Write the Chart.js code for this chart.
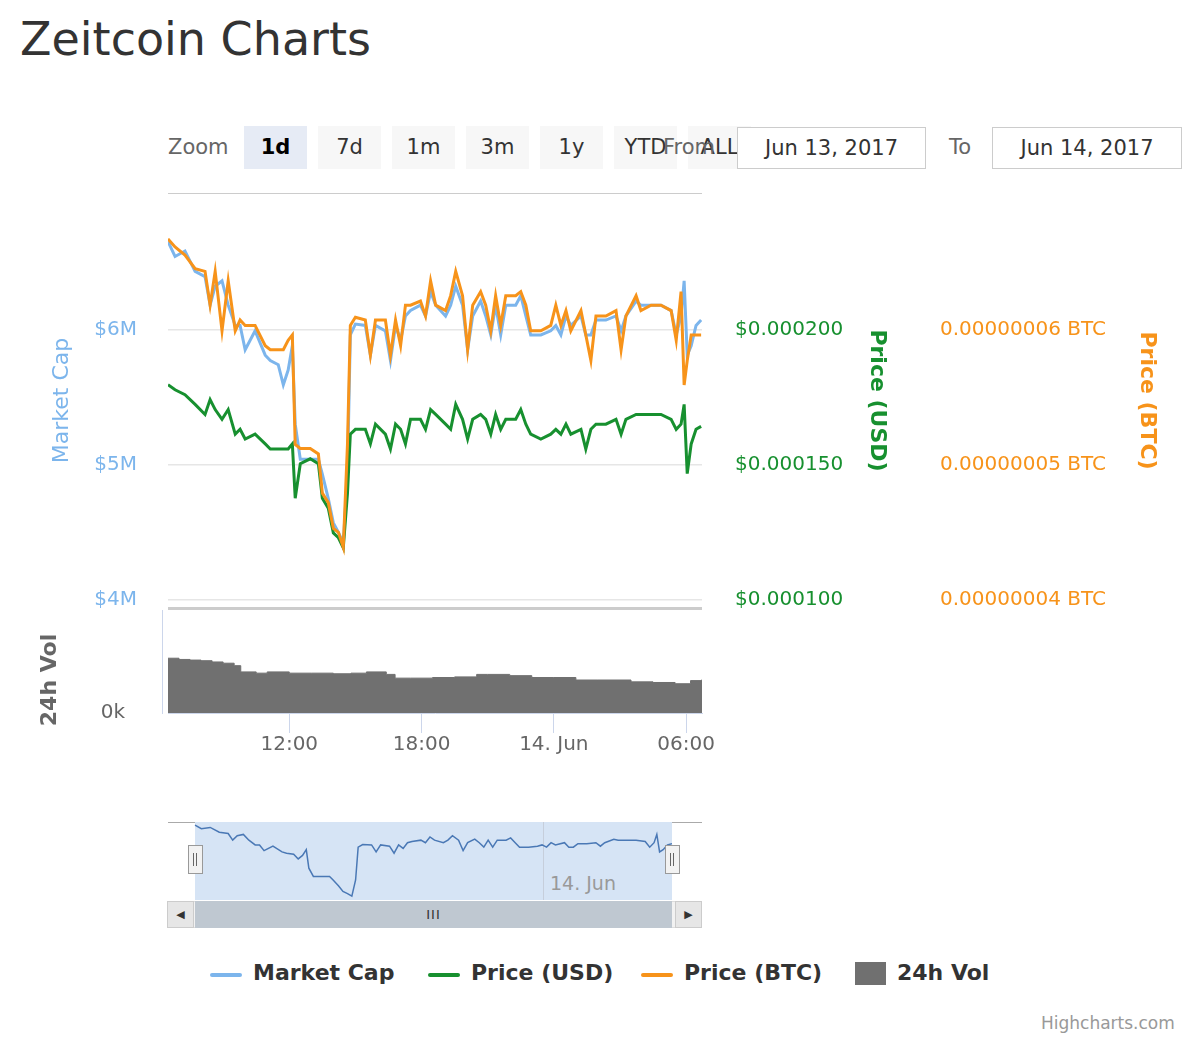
<!DOCTYPE html>
<html>
<head>
<meta charset="utf-8">
<script src="https://cdn.jsdelivr.net/npm/chart.js@4"></script>
<style>
	body { margin: 0; width: 1200px; height: 1040px; background: #fff; font-family: "DejaVu Sans", sans-serif; position: relative; overflow: hidden; }
	.abs { position: absolute; }
	#title { left: 20px; top: 12px; font-size: 46px; color: #333; }
	.btn { top: 126px; height: 43px; width: 63px; background: #f7f7f7; color: #333; font-size: 21px; line-height: 43px; text-align: center; }
	.btn.sel { background: #e6ebf5; font-weight: bold; color: #000; }
	.lbl { font-size: 21px; color: #666; }
	.inp { top: 127px; height: 40px; border: 1px solid #ccc; font-size: 21px; color: #333; line-height: 40px; text-align: center; background: #fff; }
	.leg { top: 960px; font-size: 22px; font-weight: bold; color: #333; }
	.sw { height: 4px; width: 32px; top: 973px; border-radius: 2px; }
	canvas { position: absolute; }
</style>
</head>
<body>
<div id="title" class="abs">Zeitcoin Charts</div>
<div class="abs lbl" style="left:168px;top:135px">Zoom</div>
<div class="abs btn sel" style="left:244px">1d</div>
<div class="abs btn" style="left:318px">7d</div>
<div class="abs btn" style="left:392px">1m</div>
<div class="abs btn" style="left:466px">3m</div>
<div class="abs btn" style="left:540px">1y</div>
<div class="abs btn" style="left:614px">YTD</div>
<div class="abs btn" style="left:688px">ALL</div>
<div class="abs lbl" style="left:663px;top:135px">From</div>
<div class="abs inp" style="left:737px;width:187px">Jun 13, 2017</div>
<div class="abs lbl" style="left:949px;top:135px">To</div>
<div class="abs inp" style="left:992px;width:188px">Jun 14, 2017</div>
<div class="abs" style="left:168px;top:193px;width:534px;height:1px;background:#ccc"></div>
<div class="abs" style="left:168px;top:607px;width:534px;height:3px;background:#ccc"></div>
<div class="abs" style="left:162px;top:610px;width:1px;height:104px;background:#ccd6eb"></div>

<!-- navigator decorations -->
<div class="abs" style="left:195px;top:822px;width:477px;height:78px;background:#d6e4f5"></div>
<div class="abs" style="left:168px;top:822px;width:27px;height:1px;background:#aaa"></div>
<div class="abs" style="left:672px;top:822px;width:30px;height:1px;background:#aaa"></div>
<div class="abs" style="left:543px;top:822px;width:1px;height:78px;background:#c6cedb"></div>
<div class="abs" style="left:550px;top:872px;font-size:19px;color:#999">14. Jun</div>
<div class="abs" style="left:167px;top:901px;width:535px;height:27px;background:#f2f2f2;border:1px solid #ddd;box-sizing:border-box"></div>
<div class="abs" style="left:167px;top:901px;width:27px;height:27px;background:#e6e6e6;border:1px solid #ccc;box-sizing:border-box;font-size:11px;line-height:25px;text-align:center;color:#333">&#9664;</div>
<div class="abs" style="left:675px;top:901px;width:27px;height:27px;background:#e6e6e6;border:1px solid #ccc;box-sizing:border-box;font-size:11px;line-height:25px;text-align:center;color:#333">&#9654;</div>
<div class="abs" style="left:195px;top:901px;width:477px;height:27px;background:#bfc8d1;font-size:13px;line-height:27px;text-align:center;color:#333;letter-spacing:1px">III</div>

<canvas id="mainChart" style="left:0;top:139px" width="1200" height="523"></canvas>
<canvas id="volChart" style="left:0;top:600px" width="1200" height="160"></canvas>
<canvas id="navChart" style="left:0;top:815px" width="1200" height="90"></canvas>

<div class="abs" style="left:188px;top:845px;width:13px;height:27px;background:#f2f2f2;border:1px solid #999"><div style="position:absolute;left:4px;top:7px;width:1px;height:13px;background:#666"></div><div style="position:absolute;left:7px;top:7px;width:1px;height:13px;background:#666"></div></div>
<div class="abs" style="left:665px;top:845px;width:13px;height:27px;background:#f2f2f2;border:1px solid #999"><div style="position:absolute;left:4px;top:7px;width:1px;height:13px;background:#666"></div><div style="position:absolute;left:7px;top:7px;width:1px;height:13px;background:#666"></div></div>

<div class="abs sw" style="left:210px;background:#7cb5ec"></div>
<div class="abs leg" style="left:253px">Market Cap</div>
<div class="abs sw" style="left:428px;background:#17902f"></div>
<div class="abs leg" style="left:471px">Price (USD)</div>
<div class="abs sw" style="left:641px;background:#f7931a"></div>
<div class="abs leg" style="left:684px">Price (BTC)</div>
<div class="abs" style="left:855px;top:962px;width:31px;height:23px;background:#707070"></div>
<div class="abs leg" style="left:897px">24h Vol</div>
<div class="abs" style="left:1041px;top:1013px;font-size:17px;color:#999">Highcharts.com</div>

<script>
// hours since Jun 13 00:00
const times = [6.50,6.82,7.27,7.73,8.18,8.41,8.64,8.95,9.23,9.55,
	9.77,10.00,10.45,10.91,11.14,11.50,11.73,11.95,12.14,12.27,
	12.50,12.95,13.32,13.50,13.77,14.00,14.23,14.45,14.64,14.77,
	15.00,15.45,15.68,15.91,16.36,16.59,16.82,17.05,17.27,17.50,
	17.95,18.18,18.41,18.64,19.09,19.32,19.55,19.86,20.09,20.32,
	20.68,20.91,21.14,21.36,21.59,21.82,22.27,22.50,22.73,22.95,
	23.41,23.86,24.09,24.32,24.55,24.77,25.23,25.45,25.68,25.91,
	26.36,26.82,27.05,27.27,27.73,27.95,28.41,28.86,29.32,29.55,
	29.77,29.91,30.05,30.23,30.45,30.68];
// market cap, millions USD
const marketCap = [6.65,6.54,6.58,6.43,6.39,6.18,6.32,6.36,6.18,6.03,
	6.03,5.85,5.99,5.81,5.77,5.74,5.59,5.70,5.88,5.30,
	5.04,5.04,5.04,4.93,4.75,4.57,4.50,4.42,4.93,5.96,
	6.04,6.03,5.81,6.03,5.99,5.77,6.03,5.92,6.10,6.14,
	6.18,6.10,6.28,6.18,6.10,6.18,6.32,6.18,5.85,6.10,
	6.21,6.10,5.96,6.18,5.96,6.18,6.18,6.25,6.10,5.96,
	5.96,5.99,6.03,5.96,6.10,6.03,6.10,5.96,5.96,6.07,
	6.07,6.10,5.99,6.10,6.21,6.18,6.18,6.18,6.14,5.96,
	6.10,6.36,5.81,5.88,6.03,6.07];
// price in micro USD
const priceUsdMicro = [179.6,177.7,175.9,172.3,168.6,174.1,170.4,166.8,170.4,161.3,
	163.1,159.5,161.3,157.7,155.8,155.8,155.8,155.8,157.7,137.6,
	150.4,152.2,150.4,137.6,133.9,124.8,123.0,119.3,139.4,161.3,
	163.1,163.1,157.7,165.0,161.3,155.8,165.0,163.1,157.7,166.8,
	166.8,163.1,170.4,168.6,165.0,163.1,172.3,166.8,159.5,166.8,
	168.6,166.8,161.3,168.6,163.1,166.8,166.8,170.4,165.0,161.3,
	159.5,161.3,163.1,161.3,165.0,161.3,163.1,155.8,163.1,165.0,
	165.0,166.8,161.3,166.8,168.6,168.6,168.6,168.6,166.8,163.1,
	165.0,172.3,146.7,157.7,163.1,164.2];
// price in satoshi (1e-8 BTC)
const priceBtcSat = [6.67,6.61,6.55,6.45,6.43,6.18,6.43,5.99,6.36,5.99,
	6.07,6.03,6.03,5.88,5.85,5.85,5.85,5.92,5.96,5.15,
	5.12,5.12,5.08,4.79,4.72,4.53,4.50,4.39,5.15,6.03,
	6.09,6.07,5.81,6.07,6.07,5.81,6.07,5.88,6.18,6.18,
	6.21,6.10,6.36,6.18,6.14,6.25,6.43,6.25,5.85,6.18,
	6.28,6.18,5.99,6.25,6.03,6.25,6.25,6.28,6.18,5.99,
	5.99,6.03,6.18,6.03,6.14,5.99,6.14,5.96,5.77,6.10,
	6.10,6.14,5.85,6.10,6.25,6.14,6.18,6.18,6.14,5.92,
	6.28,5.59,5.77,5.96,5.96,5.96];
// 24h volume (thousands)
const volTimes = [6.5,7.0,7.5,8.0,8.5,9.0,9.5,9.8,10.5,11.0,12.0,13.0,14.0,14.8,15.5,16.4,16.8,17.5,18.5,19.5,20.5,21.0,22.0,23.0,24.0,25.0,26.0,27.5,28.5,29.5,30.2,30.72];
const volume = [880,860,850,840,820,800,760,660,640,660,640,640,630,640,660,620,560,560,570,580,620,620,600,570,570,530,530,500,490,470,520,540];
const xTicks = [12, 18, 24, 30];
const xTickLabels = ["12:00", "18:00", "14. Jun", "06:00"];

const FONT = "DejaVu Sans";
const xMin = 6.5, xMax = 30.72;
const pts = arr => times.map((t, i) => ({ x: t, y: arr[i] }));
const fixTicks = vals => scale => { scale.ticks = vals.map(v => ({ value: v })); };

new Chart(document.getElementById("mainChart"), {
	type: "line",
	data: {
		datasets: [
			{ label: "Market Cap", data: pts(marketCap), yAxisID: "yCap", borderColor: "#7cb5ec", borderWidth: 3, pointRadius: 0, order: 2 },
			{ label: "Price (USD)", data: pts(priceUsdMicro), yAxisID: "yUsd", borderColor: "#17902f", borderWidth: 3, pointRadius: 0, order: 1 },
			{ label: "Price (BTC)", data: pts(priceBtcSat), yAxisID: "yBtc", borderColor: "#f7931a", borderWidth: 3, pointRadius: 0, order: 0 }
		]
	},
	options: {
		responsive: false, animation: false,
		layout: { padding: { left: 0, right: 40, top: 10, bottom: 12 } },
		plugins: { legend: { display: false }, tooltip: { enabled: false } },
		scales: {
			x: { type: "linear", min: xMin, max: xMax, display: false },
			yCap: {
				position: "left", min: 4, max: 6.95,
				afterBuildTicks: fixTicks([4, 5, 6]),
				afterFit: s => { s.width = 168; },
				grid: { color: "#e6e6e6", drawTicks: false, lineWidth: 1.5 },
				border: { display: false },
				ticks: { padding: 31, color: "#7cb5ec", font: { family: FONT, size: 20 }, callback: v => "$" + v + "M" },
				title: { display: true, text: "Market Cap", color: "#7cb5ec", font: { family: FONT, size: 22 }, padding: { top: 49, bottom: 0 } }
			},
			yUsd: {
				position: "right", min: 100, max: 247.5,
				afterBuildTicks: fixTicks([100, 150, 200]),
				afterFit: s => { s.width = 188; },
				grid: { drawOnChartArea: false, drawTicks: false },
				border: { display: false },
				ticks: { padding: 33, color: "#17902f", font: { family: FONT, size: 20 }, callback: v => "$" + (v / 1e6).toFixed(6) },
				title: { display: true, text: "Price (USD)", color: "#17902f", font: { family: FONT, size: 22, weight: "bold" }, padding: { top: 0, bottom: 0 } }
			},
			yBtc: {
				position: "right", min: 4, max: 6.95,
				afterBuildTicks: fixTicks([4, 5, 6]),
				afterFit: s => { s.width = 270; },
				grid: { drawOnChartArea: false, drawTicks: false },
				border: { display: false },
				ticks: { padding: 50, color: "#f7931a", font: { family: FONT, size: 20 }, callback: v => (v / 1e8).toFixed(8) + " BTC" },
				title: { display: true, text: "Price (BTC)", color: "#f7931a", font: { family: FONT, size: 22, weight: "bold" }, padding: { top: 0, bottom: 0 } }
			}
		}
	}
});

new Chart(document.getElementById("volChart"), {
	type: "line",
	data: {
		datasets: [{
			label: "24h Vol", data: volTimes.map((t, i) => ({ x: t, y: volume[i] })),
			stepped: "before", fill: "origin", backgroundColor: "#707070", borderColor: "#707070", borderWidth: 1, pointRadius: 0
		}]
	},
	options: {
		responsive: false, animation: false,
		layout: { padding: { left: 0, right: 498, top: 8, bottom: 0 } },
		plugins: { legend: { display: false }, tooltip: { enabled: false } },
		scales: {
			x: {
				type: "linear", min: xMin, max: xMax,
				afterBuildTicks: fixTicks(xTicks),
				afterFit: s => { s.height = 46; },
				grid: { drawOnChartArea: false, tickLength: 20, color: "#ccd6eb" },
				border: { color: "#ccd6eb" },
				ticks: { padding: 0, color: "#666", maxRotation: 0, font: { family: FONT, size: 20 }, callback: v => xTickLabels[xTicks.indexOf(v)] }
			},
			y: {
				min: 0, max: 1060,
				afterBuildTicks: fixTicks([0]),
				afterFit: s => { s.width = 168; },
				grid: { display: false },
				border: { display: false },
				ticks: { padding: 35, color: "#666", font: { family: FONT, size: 20 }, callback: v => v + "k" },
				title: { display: true, text: "24h Vol", color: "#666", font: { family: FONT, size: 22, weight: "bold" }, padding: { top: 37, bottom: 0 } }
			}
		}
	}
});

new Chart(document.getElementById("navChart"), {
	type: "line",
	data: { datasets: [{ data: pts(marketCap), borderColor: "#4a78b5", borderWidth: 1.5, pointRadius: 0 }] },
	options: {
		responsive: false, animation: false,
		layout: { padding: { left: 168, right: 498, top: 7, bottom: 5 } },
		plugins: { legend: { display: false }, tooltip: { enabled: false } },
		scales: {
			x: { type: "linear", min: 5.13, max: 32.2, display: false },
			y: { min: 4.3, max: 6.75, display: false }
		}
	}
});
</script>
</body>
</html>
